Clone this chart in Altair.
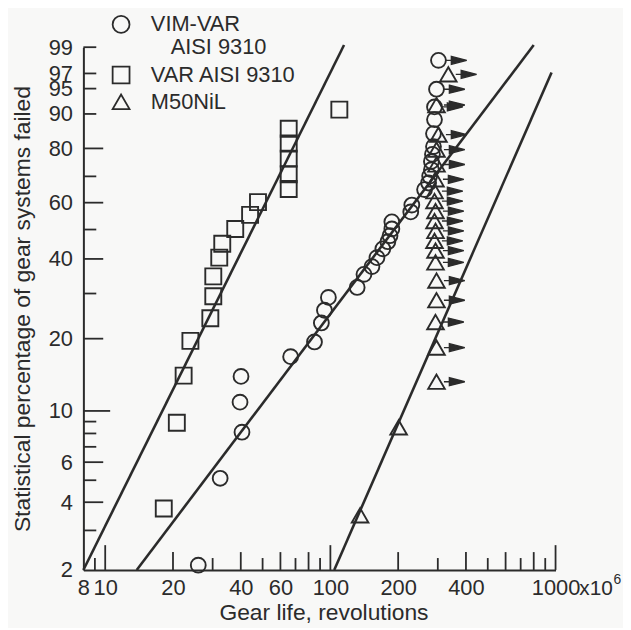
import altair as alt
import numpy as np
import pandas as pd

# ---------------- values ----------------
# gear life in millions of revolutions, statistical percentage failed
var_life = [18.2, 20.8, 22.3, 23.9, 29.3, 30.2, 30.2, 32.1, 33.1, 37.8, 44.0, 47.7,
            65.3, 65.3, 65.3, 65.3, 65.3, 109.6]
var_pct = [3.75, 8.9, 14.1, 19.6, 24.1, 29.3, 34.7, 40.4, 45.0, 50.2, 55.4, 60.2,
           65.2, 70.8, 76.5, 81.6, 86.1, 91.0]

vim_fail_life = [25.9, 32.4, 40.5, 39.7, 40.1, 66.6, 85.0, 91.2, 94.1, 98.0, 131.5, 141.0,
                 153.0, 161.0, 171.0, 180.0, 184.0, 187.5, 187.5, 227.5, 230.0, 262.0,
                 273.0, 276.0, 281.0, 281.0, 284.0, 287.0, 287.0, 290.0]
vim_fail_pct = [2.1, 5.1, 8.1, 10.9, 14.0, 16.9, 19.4, 23.1, 25.9, 29.0, 31.6, 35.3,
                37.6, 40.4, 43.3, 45.7, 47.8, 50.2, 52.8, 56.5, 59.1, 65.0,
                67.5, 70.1, 72.5, 75.5, 78.0, 80.6, 84.7, 88.6]
vim_susp_life = [290.0, 296.0, 302.0]
vim_susp_pct = [91.6, 94.9, 98.2]

m50_fail_life = [135.5, 201.0]
m50_fail_pct = [3.5, 8.5]
m50_susp_life = [296, 296, 293, 296, 296, 293, 293, 290, 293, 290, 293, 290, 290, 293,
                 296, 296, 302, 296, 334]
m50_susp_pct = [13.3, 18.4, 23.3, 28.3, 33.5, 38.9, 42.7, 46.0, 49.5, 53.1, 56.8, 60.6,
                64.4, 68.9, 74.4, 79.6, 84.4, 92.0, 96.9]

line_series = ["VAR AISI 9310"] * 2 + ["VIM-VAR AISI 9310"] * 2 + ["M50NiL"] * 2
line_life = [8.0, 115.0, 13.8, 800.0, 104.0, 960.0]
line_pct = [2.0, 99.1, 2.0, 99.1, 2.0, 97.1]

x_label_values = [8, 10, 20, 40, 60, 100, 200, 400, 1000]
x_ticks_long = [10, 100, 1000]
x_ticks_mid = [20, 40, 60, 80, 200, 400, 600, 800]
x_ticks_short = [9, 30, 50, 70, 90, 300, 500, 700, 900]
y_label_values = [2, 4, 6, 10, 20, 40, 60, 80, 90, 95, 97, 99]
y_ticks_long = [4, 6, 20, 40, 60, 80]
y_ticks_ten = [10]
y_ticks_short = [3, 5, 7, 8, 9, 30, 50, 70, 90, 95, 97, 99]

legend_labels = ["VIM-VAR", "AISI 9310", "VAR AISI 9310", "M50NiL"]
x_unit = "x10"
x_unit_exp = "6"
x_title = "Gear life, revolutions"
y_title = "Statistical percentage of gear systems failed"


def weibull(p):
    p = np.asarray(p, dtype=float)
    return np.log(-np.log(1.0 - p / 100.0))


def frame(life, pct):
    return pd.DataFrame({"life": life, "w": weibull(pct)})


# ---------------- styling ----------------
W, H = 476, 527
INK = "#2b2b2b"
FONT = "Liberation Sans"

xs = alt.Scale(type="log", domain=[8, 1000], nice=False)
ys = alt.Scale(domain=[float(weibull(2)), float(weibull(99))], nice=False, zero=False)

x_axis = alt.Axis(values=x_label_values, format="d", labelFontSize=22, labelFont=FONT,
                  labelColor=INK, labelPadding=8, labelFlush=False, labelOverlap=False,
                  ticks=False, tickSize=0, grid=False, domain=True, domainColor=INK,
                  domainWidth=2, title=x_title, titleFont=FONT, titleFontSize=23,
                  titleFontWeight="normal", titleColor=INK, titleX=242, titleY=50,
                  titleBaseline="alphabetic", titleAlign="center")
y_axis = alt.Axis(values=[float(v) for v in weibull(y_label_values)],
                  labelExpr="format(100*(1-exp(-exp(datum.value))), '.0f')",
                  labelFontSize=22, labelFont=FONT, labelColor=INK, labelPadding=11,
                  labelOverlap=False, labelFlush=False, ticks=False, tickSize=0, grid=False,
                  domain=True, domainColor=INK, domainWidth=2, title=y_title,
                  titleFont=FONT, titleFontSize=23, titleFontWeight="normal",
                  titleColor=INK, titleX=-61, titleY=H / 2, titleAngle=270,
                  titleBaseline="middle", titleAlign="center")

line_df = pd.DataFrame({"series": line_series, "life": line_life, "w": weibull(line_pct)})
lines = alt.Chart(line_df).mark_line(color=INK, strokeWidth=2.6, clip=False).encode(
    x=alt.X("life:Q", scale=xs, axis=x_axis),
    y=alt.Y("w:Q", scale=ys, axis=y_axis),
    detail="series:N",
)


def pts(df, shape, size):
    return alt.Chart(df).mark_point(shape=shape, size=size, filled=False, color=INK,
                                    strokeWidth=1.9, opacity=1).encode(x="life:Q", y="w:Q")


ARROW = "M1.5,0L2.9,0M2.6,-0.8L5.7,0L2.6,0.8Z"


def arrows(df):
    return alt.Chart(df).mark_point(shape=ARROW, size=100, filled=True, fill=INK, stroke=INK,
                                    strokeWidth=1.4, opacity=1).encode(x="life:Q", y="w:Q")


def xticks(vals, length):
    return alt.Chart(pd.DataFrame({"life": vals})).mark_rule(color=INK, strokeWidth=1.8).encode(
        x="life:Q", y=alt.value(H), y2=alt.value(H - length))


def yticks(vals, length):
    return alt.Chart(pd.DataFrame({"w": weibull(vals)})).mark_rule(color=INK, strokeWidth=1.8).encode(
        y="w:Q", x=alt.value(0), x2=alt.value(length))


dummy = pd.DataFrame({"k": [0]})


def leg_sym(shape, px, py):
    return alt.Chart(dummy).mark_point(shape=shape, size=290, filled=False, color=INK,
                                       strokeWidth=1.8, opacity=1).encode(
        x=alt.value(px), y=alt.value(py))


def leg_text(txt, px, py, size=22, baseline="middle"):
    return alt.Chart(dummy).mark_text(text=txt, align="left", baseline=baseline, fontSize=size,
                                      font=FONT, color=INK).encode(
        x=alt.value(px), y=alt.value(py))


susp_df = pd.concat([frame(vim_susp_life, vim_susp_pct), frame(m50_susp_life, m50_susp_pct)])

chart = alt.layer(
    lines,
    xticks(x_ticks_long, 25), xticks(x_ticks_mid, 18), xticks(x_ticks_short, 12),
    yticks(y_ticks_long, 20), yticks(y_ticks_ten, 27), yticks(y_ticks_short, 13),
    arrows(susp_df),
    pts(frame(var_life, var_pct), "square", 260),
    pts(frame(vim_fail_life, vim_fail_pct), "circle", 225),
    pts(frame(vim_susp_life, vim_susp_pct), "circle", 225),
    pts(frame(m50_fail_life, m50_fail_pct), "triangle-up", 280),
    pts(frame(m50_susp_life, m50_susp_pct), "triangle-up", 280),
    leg_sym("circle", 38, -23), leg_text(legend_labels[0], 68, -23),
    leg_text(legend_labels[1], 88, 0),
    leg_sym("square", 38, 28), leg_text(legend_labels[2], 68, 28),
    leg_sym("triangle-up", 38, 55), leg_text(legend_labels[3], 68, 55),
    leg_text(x_unit, 500, H + 8, 21, "top"),
    leg_text(x_unit_exp, 534.5, H + 3, 14, "top"),
).properties(
    width=W, height=H,
    autosize=alt.AutoSizeParams(type="none"),
    padding={"left": 76, "top": 37, "right": 68, "bottom": 56},
).configure(background="#f8f8f7").configure_view(strokeWidth=0)

chart.save("out.html", embed_options={"renderer": "svg", "actions": False})
